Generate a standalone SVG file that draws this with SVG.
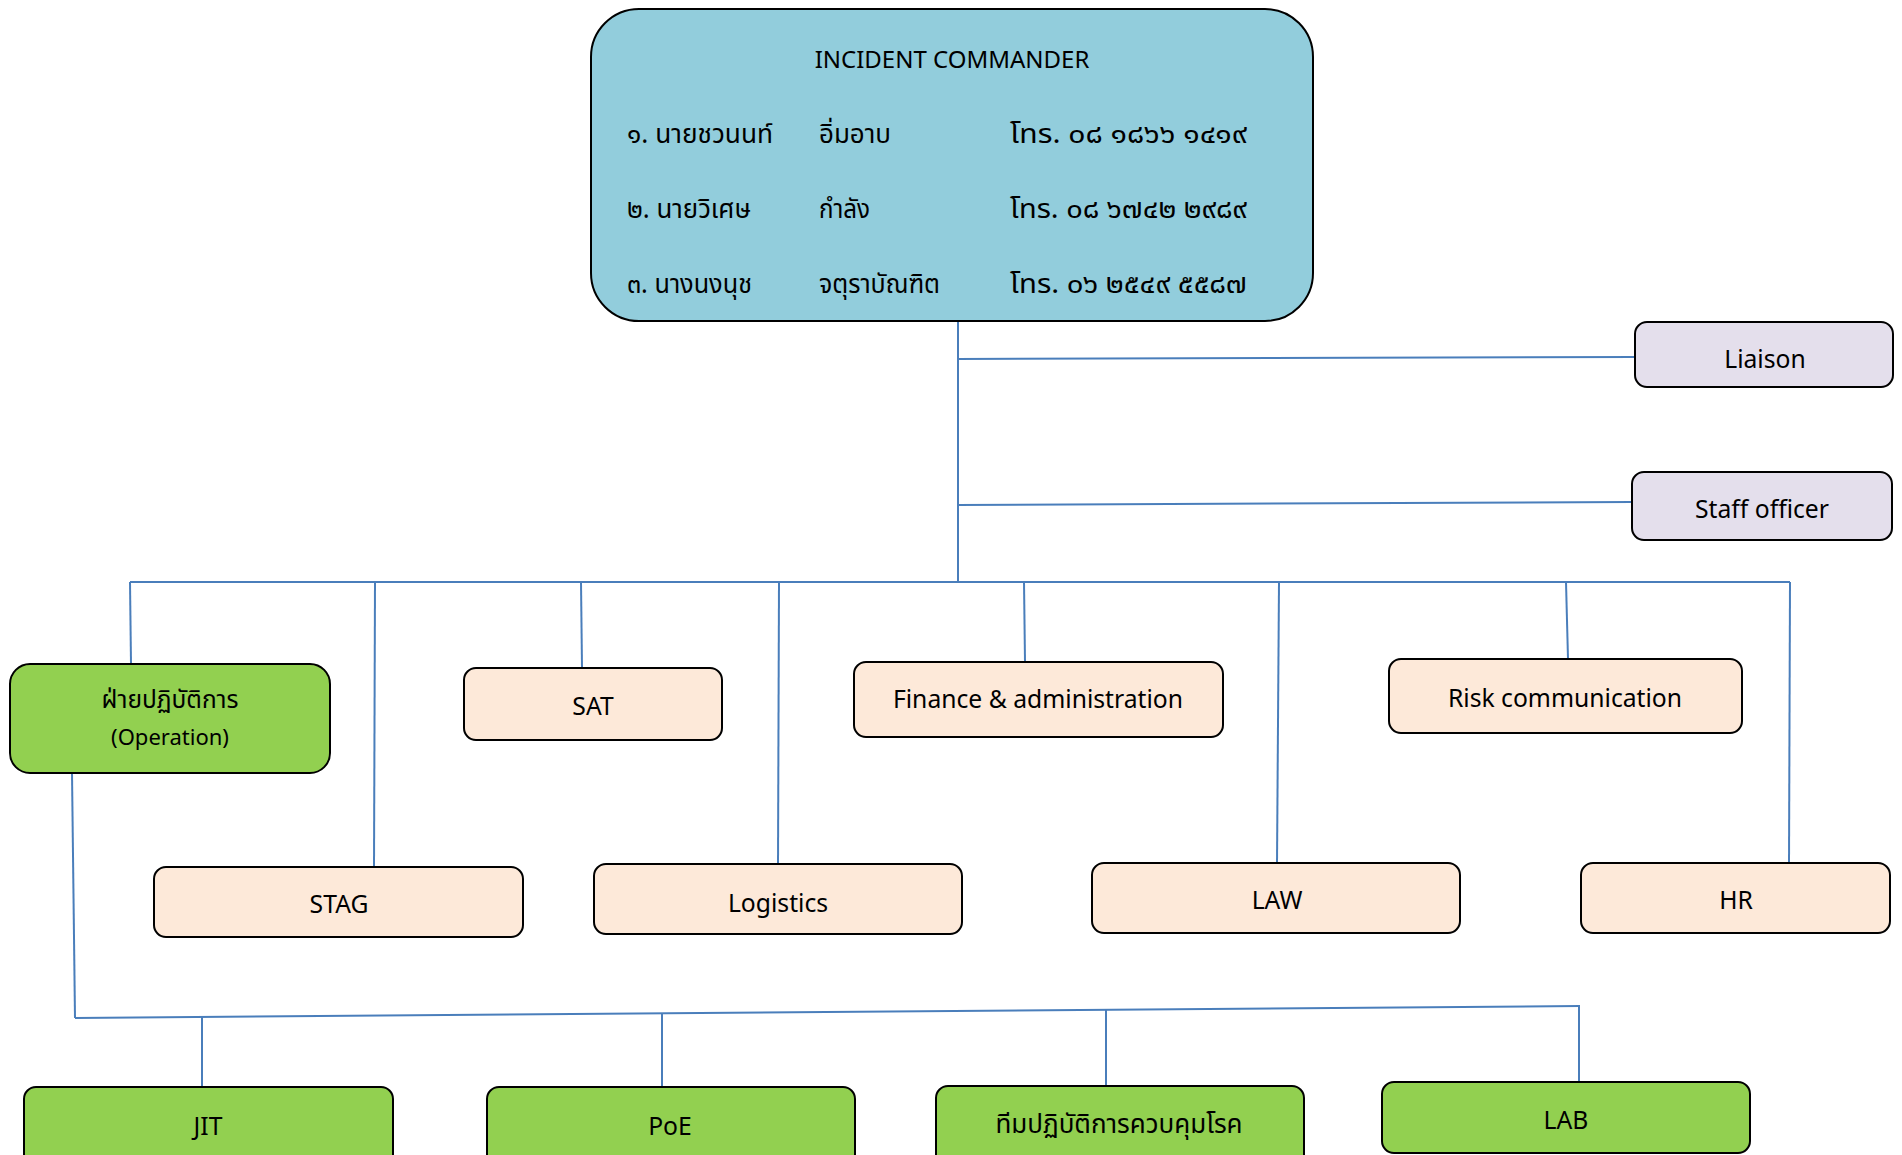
<svg xmlns="http://www.w3.org/2000/svg" width="1902" height="1155" viewBox="0 0 1902 1155">
<style>
.box{stroke:#000;stroke-width:2}
.ic{fill:#92CDDC}
.lav{fill:#E4DFEC}
.peach{fill:#FDE9D9}
.green{fill:#92D050}
.t{font-family:"Noto Sans","Open Sans","Noto Sans Thai","Leelawadee UI",sans-serif;fill:#000;text-anchor:middle;font-size:24.7px}
.th{font-family:"Noto Sans","Noto Sans Thai","Leelawadee UI",sans-serif;fill:#000;font-size:27px}
.conn line{stroke:#4A7EBB;stroke-width:2;fill:none}
</style>
<rect width="1902" height="1155" fill="#fff"/>
<g class="conn">
<line x1="958" y1="322" x2="958" y2="582"/>
<line x1="958" y1="359" x2="1635" y2="357"/>
<line x1="958" y1="505" x2="1632" y2="502"/>
<line x1="130" y1="582" x2="1790" y2="582"/>
<line x1="130" y1="582" x2="131" y2="664"/>
<line x1="375" y1="582" x2="374" y2="867"/>
<line x1="581" y1="582" x2="582" y2="668"/>
<line x1="779" y1="582" x2="778" y2="864"/>
<line x1="1024" y1="582" x2="1025" y2="662"/>
<line x1="1279" y1="582" x2="1277" y2="863"/>
<line x1="1566" y1="582" x2="1568" y2="659"/>
<line x1="1790" y1="582" x2="1789" y2="863"/>
<line x1="72" y1="773" x2="75" y2="1018"/>
<line x1="75" y1="1018" x2="1580" y2="1006"/>
<line x1="202" y1="1017" x2="202" y2="1087"/>
<line x1="662" y1="1013" x2="662" y2="1087"/>
<line x1="1106" y1="1010" x2="1106" y2="1086"/>
<line x1="1579" y1="1006" x2="1579" y2="1082"/>
</g>
<g id="incident-commander">
<rect class="box ic" x="591" y="9" width="722" height="312" rx="48"/>
<text class="t" x="952" y="68" style="font-size:24px">INCIDENT COMMANDER</text>
<text class="th" x="627" y="143" textLength="146" lengthAdjust="spacingAndGlyphs">๑. นายชวนนท์</text>
<text class="th" x="819" y="143" textLength="72" lengthAdjust="spacingAndGlyphs">อิ่มอาบ</text>
<text class="th" x="1010" y="143" textLength="237" lengthAdjust="spacingAndGlyphs">โทร. ๐๘ ๑๘๖๖ ๑๔๑๙</text>
<text class="th" x="627" y="218" textLength="124" lengthAdjust="spacingAndGlyphs">๒. นายวิเศษ</text>
<text class="th" x="819" y="218" textLength="51" lengthAdjust="spacingAndGlyphs">กำลัง</text>
<text class="th" x="1010" y="218" textLength="237" lengthAdjust="spacingAndGlyphs">โทร. ๐๘ ๖๗๔๒ ๒๙๘๙</text>
<text class="th" x="627" y="293" textLength="125" lengthAdjust="spacingAndGlyphs">๓. นางนงนุช</text>
<text class="th" x="819" y="293" textLength="121" lengthAdjust="spacingAndGlyphs">จตุราบัณฑิต</text>
<text class="th" x="1010" y="293" textLength="237" lengthAdjust="spacingAndGlyphs">โทร. ๐๖ ๒๕๔๙ ๕๕๘๗</text>
</g>
<g id="liaison">
<rect class="box lav" x="1635" y="322" width="258" height="65" rx="12"/>
<text class="t" x="1765" y="368">Liaison</text>
</g>
<g id="staff-officer">
<rect class="box lav" x="1632" y="472" width="260" height="68" rx="12"/>
<text class="t" x="1762" y="518">Staff officer</text>
</g>
<g id="operation">
<rect class="box green" x="10" y="664" width="320" height="109" rx="20"/>
<text class="t" x="170" y="708" style="font-size:24.5px">ฝ่ายปฏิบัติการ</text>
<text class="t" x="170" y="745" style="font-size:22px">(Operation)</text>
</g>
<g id="sat">
<rect class="box peach" x="464" y="668" width="258" height="72" rx="12"/>
<text class="t" x="593" y="715">SAT</text>
</g>
<g id="finance">
<rect class="box peach" x="854" y="662" width="369" height="75" rx="12"/>
<text class="t" x="1038" y="708">Finance &amp; administration</text>
</g>
<g id="risk">
<rect class="box peach" x="1389" y="659" width="353" height="74" rx="12"/>
<text class="t" x="1565" y="707">Risk communication</text>
</g>
<g id="stag">
<rect class="box peach" x="154" y="867" width="369" height="70" rx="12"/>
<text class="t" x="339" y="913">STAG</text>
</g>
<g id="logistics">
<rect class="box peach" x="594" y="864" width="368" height="70" rx="12"/>
<text class="t" x="778" y="912">Logistics</text>
</g>
<g id="law">
<rect class="box peach" x="1092" y="863" width="368" height="70" rx="12"/>
<text class="t" x="1277" y="909">LAW</text>
</g>
<g id="hr">
<rect class="box peach" x="1581" y="863" width="309" height="70" rx="12"/>
<text class="t" x="1736" y="909">HR</text>
</g>
<g id="jit">
<rect class="box green" x="24" y="1087" width="369" height="80" rx="12"/>
<text class="t" x="208" y="1135">JIT</text>
</g>
<g id="poe">
<rect class="box green" x="487" y="1087" width="368" height="80" rx="12"/>
<text class="t" x="670" y="1135">PoE</text>
</g>
<g id="control-team">
<rect class="box green" x="936" y="1086" width="368" height="80" rx="12"/>
<text class="t" x="1119" y="1133" style="font-size:26px">ทีมปฏิบัติการควบคุมโรค</text>
</g>
<g id="lab">
<rect class="box green" x="1382" y="1082" width="368" height="71" rx="12"/>
<text class="t" x="1566" y="1129">LAB</text>
</g>
</svg>
